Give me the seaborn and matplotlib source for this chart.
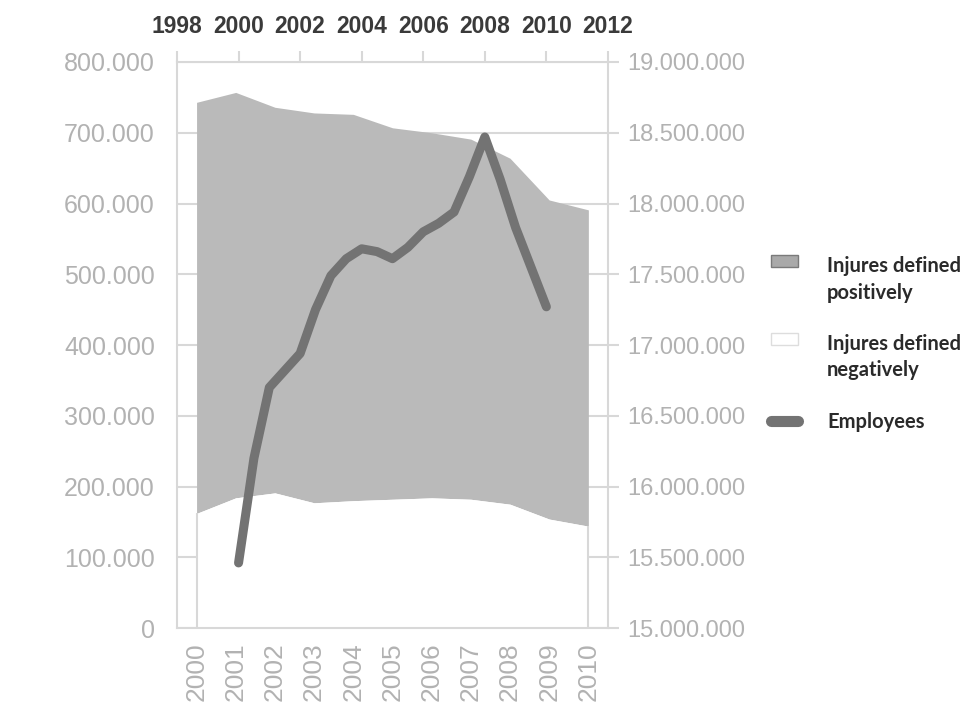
import matplotlib
matplotlib.use("Agg")
import matplotlib.pyplot as plt
import seaborn as sns
import pandas as pd
from matplotlib.patches import Patch, Rectangle
from matplotlib.lines import Line2D
from matplotlib.legend_handler import HandlerPatch
from matplotlib.ticker import FuncFormatter, FixedLocator

# data
years = ["2000", "2001", "2002", "2003", "2004", "2005",
         "2006", "2007", "2008", "2009", "2010"]
negative = [162000, 184000, 191000, 177000, 180000, 182000,
            184000, 182000, 175000, 154000, 144000]
positive = [581000, 573000, 545000, 551000, 546000, 525000,
            516000, 509000, 489000, 451000, 447000]
# employees, every half year
emp_years = [2000.0, 2000.5, 2001.0, 2001.5, 2002.0, 2002.5, 2003.0,
             2003.5, 2004.0, 2004.5, 2005.0, 2005.5, 2006.0, 2006.5,
             2007.0, 2007.5, 2008.0, 2008.5, 2009.0, 2009.5, 2010.0]
employees = [15460000, 16200000, 16700000, 16820000, 16940000, 17250000,
             17490000, 17610000, 17680000, 17660000, 17610000, 17690000,
             17800000, 17860000, 17940000, 18190000, 18470000, 18170000,
             17830000, 17550000, 17270000]

top_ticks = [1998, 2000, 2002, 2004, 2006, 2008, 2010, 2012]

GRID = "#d8d8d8"
LABEL = "#b2b2b2"
AREA = "#bababa"
LINE = "#737373"

sns.set_theme(style="white")
plt.rcParams["font.family"] = ["Liberation Sans", "DejaVu Sans"]

df = pd.DataFrame({"year": years, "neg": negative, "pos": positive})
df["total"] = df["neg"] + df["pos"]
emp = pd.DataFrame({"year": emp_years, "employees": employees})

dots = FuncFormatter(lambda v, p: f"{int(v):,}".replace(",", "."))

fig = plt.figure(figsize=(9.65, 7.11), dpi=100)
ax = fig.add_axes([0.1834, 0.1167, 0.4466, 0.7961])

xs = range(len(df))
ax.fill_between(xs, df["neg"], df["total"], color=AREA, lw=0, zorder=2)
ax.fill_between(xs, 0, df["neg"], color="white", lw=0, zorder=2)
ax.vlines([0, len(df) - 1], 0, [df["neg"].iloc[0], df["neg"].iloc[-1]],
          color=GRID, lw=1.5, zorder=3)

ax.set_xlim(-0.5, len(df) - 0.5)
ax.set_ylim(0, 800000)
ax.set_yticks(range(0, 800001, 100000))
ax.yaxis.set_major_formatter(dots)
ax.set_xticks(list(xs))
ax.set_xticklabels(years, rotation=90)
ax.xaxis.set_minor_locator(FixedLocator([i - 0.5 for i in range(len(df) + 1)]))
ax.grid(axis="y", color=GRID, lw=1.5, zorder=1)
ax.set_axisbelow(True)
ax.tick_params(axis="x", which="major", length=0, pad=10, colors=LABEL, labelsize=19)
ax.tick_params(axis="x", which="minor", length=8, width=1.5, color=GRID, direction="out")
ax.tick_params(axis="y", length=8, width=1.5, color=GRID, labelcolor=LABEL, labelsize=18,
               direction="out", pad=8)
for s in ["left", "bottom"]:
    ax.spines[s].set_color(GRID)
    ax.spines[s].set_linewidth(1.5)
for s in ["top", "right"]:
    ax.spines[s].set_visible(False)
ax.set_xlabel("")
ax.set_ylabel("")

# employees on top / right axes
ax2 = fig.add_axes(ax.get_position())
ax2.patch.set_visible(False)
sns.lineplot(data=emp, x="year", y="employees", ax=ax2, color=LINE, lw=6.5,
             solid_capstyle="round", solid_joinstyle="round", zorder=5)
ax2.set_xlim(1998, 2012)
ax2.set_ylim(15000000, 19000000)
ax2.xaxis.tick_top()
ax2.yaxis.tick_right()
ax2.set_xticks(top_ticks)
ax2.set_yticks(range(15000000, 19000001, 500000))
ax2.yaxis.set_major_formatter(dots)
ax2.tick_params(axis="x", length=8, width=1.5, color=GRID, direction="out", pad=9,
                labelcolor="#3a3a3a", labelsize=16.5)
ax2.tick_params(axis="y", length=8, width=1.5, color=GRID, direction="out", pad=6,
                labelcolor=LABEL, labelsize=17)
for lab in ax2.get_xticklabels():
    lab.set_fontweight("bold")
for s in ["top", "right"]:
    ax2.spines[s].set_color(GRID)
    ax2.spines[s].set_linewidth(1.5)
for s in ["left", "bottom"]:
    ax2.spines[s].set_visible(False)
ax2.set_xlabel("")
ax2.set_ylabel("")


def top_box(legend, orig_handle, xdescent, ydescent, width, height, fontsize):
    # put the swatch beside the first line of a two-line label
    return Rectangle((-xdescent, -ydescent + 0.95 * fontsize), width, height)


handles = [
    Patch(facecolor="#a9a9a9", edgecolor="#7a7a7a", lw=1),
    Patch(facecolor="white", edgecolor="#dddddd", lw=1),
    Line2D([], [], color=LINE, lw=8, solid_capstyle="round"),
]
labels = ["Injures defined\npositively", "Injures defined\nnegatively", "Employees"]
leg = fig.legend(handles, labels, loc="upper left", bbox_to_anchor=(0.780, 0.665),
                 frameon=False, prop={"family": "Lato", "weight": "bold", "size": 14.5},
                 labelcolor="#2a2a2a", handlelength=1.35, handleheight=0.55,
                 handletextpad=1.45, labelspacing=1.55,
                 handler_map={Patch: HandlerPatch(patch_func=top_box)})
for t in leg.get_texts():
    t.set_linespacing(1.4)

fig.savefig("out.png", dpi=100)
plt.close(fig)
